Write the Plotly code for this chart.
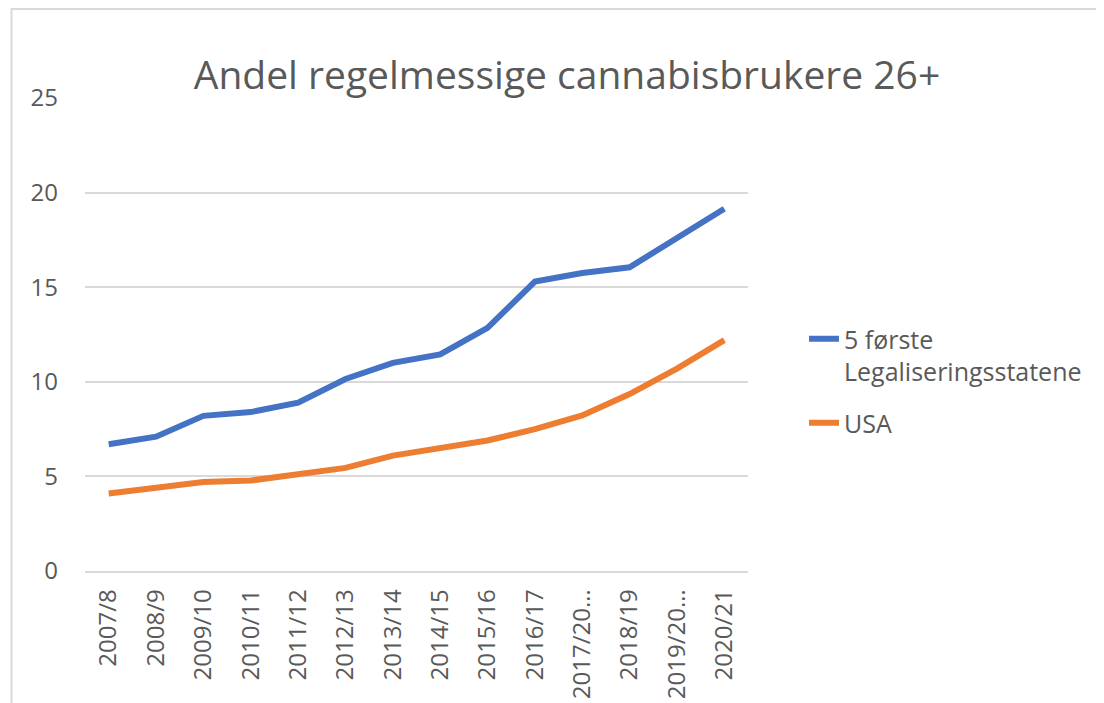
import plotly.graph_objects as go

categories = ["2007/8", "2008/9", "2009/10", "2010/11", "2011/12", "2012/13", "2013/14",
              "2014/15", "2015/16", "2016/17", "2017/20…", "2018/19", "2019/20…", "2020/21"]
legal_states = [6.7, 7.1, 8.2, 8.4, 8.9, 10.15, 11.0, 11.45, 12.85, 15.3, 15.75, 16.05, 17.6, 19.15]
usa = [4.1, 4.4, 4.7, 4.78, 5.1, 5.45, 6.1, 6.5, 6.9, 7.5, 8.22, 9.35, 10.7, 12.2]
y_ticks = [0, 5, 10, 15, 20, 25]

title_text = "Andel regelmessige cannabisbrukere 26+"
name_legal = "5 første<br>Legaliseringsstatene"
name_usa = "USA"

FONT = "'Open Sans', 'Noto Sans', sans-serif"
GREY = "#595959"
GRID = "#d9d9d9"

OFF = 8  # page body margin shift
W, H = 1104 - OFF, 703 - OFF
# target plot area in window pixels: x 85..748, y 98..571
L, T = 85 - OFF, 98 - OFF
pw, ph = 663, 473
R = W - L - pw
B = H - T - ph


def px_x(x):
    return (x - OFF - L) / pw


def px_y(y):
    return (T + ph - (y - OFF)) / ph


fig = go.Figure()
fig.add_trace(go.Scatter(x=categories, y=legal_states, mode="lines", name=name_legal,
                         legendgroup="legal", line=dict(color="#4472C4", width=6)))
fig.add_trace(go.Scatter(x=categories, y=usa, mode="lines", name=name_usa,
                         legendgroup="usa", line=dict(color="#ED7D31", width=6)))

fig.update_layout(
    width=W, height=H,
    margin=dict(l=L, r=R, t=T, b=B, pad=0, autoexpand=False),
    paper_bgcolor="white", plot_bgcolor="white",
    font=dict(family=FONT, color=GREY, size=22),
    title=dict(text=title_text, x=(567 - OFF) / W, xanchor="center",
               y=1 - (75 - OFF) / H, yanchor="middle",
               font=dict(family=FONT, size=39, color=GREY)),
    showlegend=True,
    legend=dict(x=px_x(804), xanchor="left", y=px_y(316), yanchor="top",
                font=dict(family=FONT, size=25, color=GREY), tracegroupgap=16,
                valign="top", bgcolor="rgba(0,0,0,0)"),
    xaxis=dict(type="category", categoryorder="array", categoryarray=categories,
               range=[-0.5, len(categories) - 0.5], tickangle=-90, automargin=False,
               showgrid=False, showline=True, linecolor=GRID, linewidth=1.5,
               ticks="", ticklabelstandoff=7, tickfont=dict(family=FONT, size=24, color=GREY)),
    yaxis=dict(range=[0, 25], tickvals=y_ticks, showgrid=True, gridcolor=GRID, gridwidth=1.5,
               zeroline=False, showline=False, ticks="", ticklabelstandoff=26, automargin=False,
               tickfont=dict(family=FONT, size=24, color=GREY)),
    shapes=[dict(type="rect", xref="paper", yref="paper",
                 x0=px_x(11.5), x1=1.7, y0=-0.4, y1=px_y(9),
                 line=dict(color=GRID, width=2), fillcolor="rgba(0,0,0,0)", layer="below")],
)

fig.write_html("out.html")
